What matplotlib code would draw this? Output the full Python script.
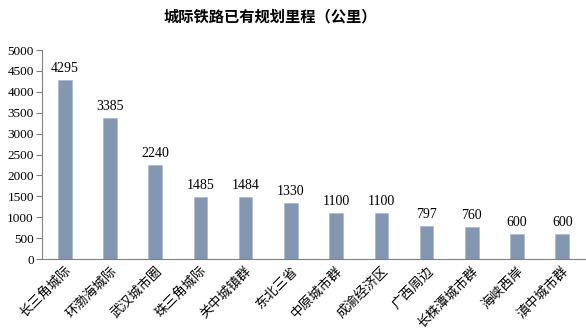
import matplotlib
matplotlib.use("Agg")
import matplotlib.pyplot as plt

regions = ["长三角城际", "环渤海城际", "武汉城市圈", "珠三角城际", "关中城镇群", "东北三省",
           "中原城市群", "成渝经济区", "广西周边", "长株潭城市群", "海峡西岸", "滇中城市群"]
mileage = [4295, 3385, 2240, 1485, 1484, 1330, 1100, 1100, 797, 760, 600, 600]
yticks = list(range(0, 5001, 500))

fig = plt.figure(figsize=(5.86, 3.36), dpi=100)
ax = fig.add_axes([0.072, 0.229, 0.926, 0.622])

x = list(range(len(regions)))
ax.bar(x, mileage, width=0.3, color='#8497B0', edgecolor='#A9B8CC', linewidth=0.5)

for xi, v in zip(x, mileage):
    ax.text(xi, v + 120, str(v), ha='center', va='bottom', fontsize=10,
            family='Liberation Serif', color='black')

ax.set_xlim(-0.5, len(regions) - 0.5)
ax.set_ylim(0, 5000)
ax.set_yticks(yticks)
ax.set_yticklabels([str(t) for t in yticks], family='Liberation Serif', fontsize=9.5)
ax.set_xticks(x)
ax.set_xticklabels(regions, rotation=45, ha='right', rotation_mode='anchor',
                   family=['Noto Sans CJK SC'], fontsize=9.5)
ax.tick_params(axis='x', length=0, pad=4)
ax.tick_params(axis='y', length=4, direction='out', color='#808080', pad=2)

for s in ['top', 'right']:
    ax.spines[s].set_visible(False)
for s in ['left', 'bottom']:
    ax.spines[s].set_color('#808080')
    ax.spines[s].set_linewidth(0.8)

fig.text(0.461, 0.952, "城际铁路已有规划里程（公里）", ha='center', va='center',
         fontsize=11, fontweight='bold', family=['Noto Sans CJK SC'])

fig.savefig("out.png", dpi=100, facecolor='white')
